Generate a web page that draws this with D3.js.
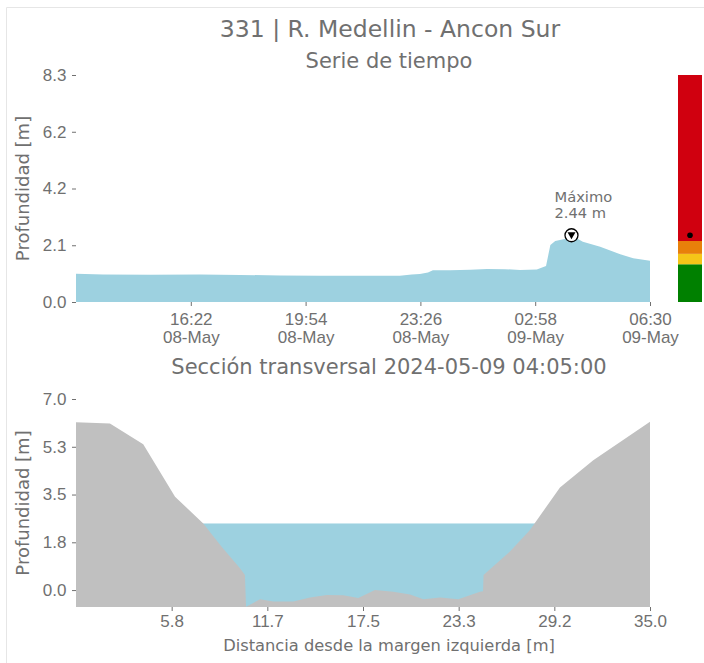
<!DOCTYPE html>
<html>
<head>
<meta charset="utf-8">
<script src="https://cdn.jsdelivr.net/npm/d3@7"></script>
<style>
	body { margin: 0; background: #fff; }
	svg { font-family: "DejaVu Sans", sans-serif; }
	.axis text { fill: #707070; font-size: 17px; }
	.axis line { stroke: #707070; }
	.axis path { display: none; }
</style>
</head>
<body>
<svg id="chart" width="704" height="663"></svg>
<script>
// serie de tiempo (profundidad en m)
var seriesTimes = ["2024-05-08 12:50", "2024-05-08 13:40", "2024-05-08 15:07", "2024-05-08 16:39",
	"2024-05-08 17:53", "2024-05-08 19:07", "2024-05-08 20:21", "2024-05-08 21:34", "2024-05-08 22:48",
	"2024-05-08 23:10", "2024-05-08 23:25", "2024-05-08 23:40", "2024-05-08 23:49", "2024-05-09 00:21",
	"2024-05-09 00:58", "2024-05-09 01:29", "2024-05-09 02:02", "2024-05-09 02:30", "2024-05-09 03:01",
	"2024-05-09 03:18", "2024-05-09 03:26", "2024-05-09 03:35", "2024-05-09 03:59", "2024-05-09 04:05",
	"2024-05-09 04:12", "2024-05-09 04:26", "2024-05-09 04:58", "2024-05-09 05:35", "2024-05-09 05:59",
	"2024-05-09 06:30"];
var seriesDepth = [1.03, 1.01, 1.00, 1.01, 0.99, 0.97, 0.96, 0.96, 0.96, 1.01, 1.02, 1.08, 1.16, 1.16,
	1.18, 1.21, 1.20, 1.17, 1.19, 1.32, 2.08, 2.23, 2.33, 2.44, 2.36, 2.20, 2.02, 1.75, 1.60, 1.51];
var maxTime = "2024-05-09 04:05";
var maxDepth = 2.44;
var timeTicks = ["2024-05-08 16:22", "2024-05-08 19:54", "2024-05-08 23:26", "2024-05-09 02:58", "2024-05-09 06:30"];
var depthTicks = [0, 2.075, 4.15, 6.225, 8.3];

// umbrales de alerta
var levelTops = [1.38, 1.76, 2.23, 8.3];
var levelColors = ["#008000", "#f5c518", "#e8800a", "#d0000f"];

// seccion transversal
var sectionDist = [0, 2.07, 4.10, 6.04, 7.76, 8.88, 10.0, 10.3, 10.37, 11.22, 12.03, 13.25, 14.27, 15.29,
	16.30, 17.21, 18.23, 19.35, 20.37, 21.18, 22.2, 23.31, 24.63, 24.82, 24.85, 26.46, 27.68, 29.51, 31.54, 35.0];
var sectionBed = [6.15, 6.10, 5.34, 3.42, 2.44, 1.59, 0.80, 0.55, -0.61, -0.34, -0.42, -0.42, -0.27, -0.18,
	-0.19, -0.29, 0.0, -0.06, -0.16, -0.34, -0.27, -0.34, -0.06, -0.04, 0.55, 1.41, 2.20, 3.76, 4.76, 6.17];
var waterLevel = 2.44;
var distTicks = [5.833, 11.667, 17.5, 23.333, 29.167, 35.0];
var sectionTicks = [0, 1.75, 3.5, 5.25, 7.0];

var parse = d3.timeParse("%Y-%m-%d %H:%M");
var textColor = "#707070";
var svg = d3.select("#chart");

// marco de la figura
svg.append("path")
	.attr("d", "M6.5,663 V7.5 H704")
	.attr("fill", "none")
	.attr("stroke", "#e6e6e6");

svg.append("text")
	.attr("x", 390).attr("y", 37)
	.attr("text-anchor", "middle")
	.style("font-size", "23.5px").style("fill", textColor)
	.text("331 | R. Medellin - Ancon Sur");

setupSeries();
setupSection();

function setupSeries() {
	var xScale = d3.scaleTime()
		.domain([parse("2024-05-08 12:50"), parse("2024-05-09 06:30")])
		.range([76, 650]);
	var yScale = d3.scaleLinear()
		.domain([0, 8.3])
		.range([302, 75]);

	var data = seriesTimes.map(function(t, i) {
		return { t: parse(t), v: seriesDepth[i] };
	});

	svg.append("path")
		.datum(data)
		.attr("fill", "#9dd1e0")
		.attr("d", d3.area()
			.x(function(d) { return xScale(d.t); })
			.y0(yScale(0))
			.y1(function(d) { return yScale(d.v); }));

	var xAxis = d3.axisBottom(xScale)
		.tickValues(timeTicks.map(parse))
		.tickSize(4)
		.tickPadding(4)
		.tickFormat("");
	var gx = svg.append("g")
		.attr("class", "axis")
		.attr("transform", "translate(0,302)")
		.call(xAxis);
	gx.selectAll(".tick").append("text")
		.attr("y", 23).attr("text-anchor", "middle")
		.text(function(d) { return d3.timeFormat("%H:%M")(d); });
	gx.selectAll(".tick").append("text")
		.attr("y", 41).attr("text-anchor", "middle")
		.text(function(d) { return d3.timeFormat("%d-%b")(d); });

	svg.append("g")
		.attr("class", "axis")
		.attr("transform", "translate(76,0)")
		.call(d3.axisLeft(yScale)
			.tickValues(depthTicks)
			.tickSize(4)
			.tickPadding(5.5)
			.tickFormat(d3.format(".1f")));

	svg.append("text")
		.attr("transform", "translate(29," + ((75 + 302) / 2) + ") rotate(-90)")
		.attr("text-anchor", "middle")
		.style("font-size", "18px").style("fill", textColor)
		.text("Profundidad [m]");

	svg.append("text")
		.attr("x", 389).attr("y", 68)
		.attr("text-anchor", "middle")
		.style("font-size", "21px").style("fill", textColor)
		.text("Serie de tiempo");

	// marcador del maximo
	var mx = xScale(parse(maxTime));
	var my = yScale(maxDepth);
	svg.append("circle")
		.attr("cx", mx).attr("cy", my).attr("r", 6.5)
		.attr("fill", "#fff").attr("stroke", "#000").attr("stroke-width", 1.3);
	svg.append("path")
		.attr("transform", "translate(" + mx + "," + my + ")")
		.attr("d", "M-4,-3 L4,-3 L0,4 Z")
		.attr("fill", "#000");
	svg.append("text")
		.attr("x", mx - 17).attr("y", my - 33)
		.style("font-size", "14.7px").style("fill", textColor)
		.text("Máximo");
	svg.append("text")
		.attr("x", mx - 17).attr("y", my - 17)
		.style("font-size", "14.7px").style("fill", textColor)
		.text(maxDepth.toFixed(2) + " m");

	// barra de niveles
	var bottoms = [0].concat(levelTops.slice(0, -1));
	svg.selectAll(".level")
		.data(levelTops)
		.enter().append("rect")
		.attr("class", "level")
		.attr("x", 678)
		.attr("width", 24)
		.attr("y", function(d) { return yScale(d); })
		.attr("height", function(d, i) { return yScale(bottoms[i]) - yScale(d); })
		.attr("fill", function(d, i) { return levelColors[i]; });
	svg.append("circle")
		.attr("cx", 690).attr("cy", yScale(maxDepth)).attr("r", 2.8)
		.attr("fill", "#000");
}

function setupSection() {
	var xScale = d3.scaleLinear()
		.domain([0, 35])
		.range([76, 650]);
	var yScale = d3.scaleLinear()
		.domain([-0.62, 7.0])
		.range([607, 399]);

	var bed = sectionDist.map(function(d, i) {
		return { x: d, y: sectionBed[i] };
	});

	svg.append("rect")
		.attr("x", xScale(0))
		.attr("y", yScale(waterLevel))
		.attr("width", xScale(35) - xScale(0))
		.attr("height", yScale(-0.62) - yScale(waterLevel))
		.attr("fill", "#9dd1e0");

	svg.append("path")
		.datum(bed)
		.attr("fill", "#c0c0c0")
		.attr("d", d3.area()
			.x(function(d) { return xScale(d.x); })
			.y0(yScale(-0.62))
			.y1(function(d) { return yScale(d.y); }));

	svg.append("g")
		.attr("class", "axis")
		.attr("transform", "translate(0,607)")
		.call(d3.axisBottom(xScale)
			.tickValues(distTicks)
			.tickSize(4)
			.tickPadding(4)
			.tickFormat(d3.format(".1f")));

	svg.append("g")
		.attr("class", "axis")
		.attr("transform", "translate(76,0)")
		.call(d3.axisLeft(yScale)
			.tickValues(sectionTicks)
			.tickSize(4)
			.tickPadding(5.5)
			.tickFormat(d3.format(".1f")));

	svg.append("text")
		.attr("transform", "translate(29," + ((399 + 607) / 2) + ") rotate(-90)")
		.attr("text-anchor", "middle")
		.style("font-size", "18px").style("fill", textColor)
		.text("Profundidad [m]");

	svg.append("text")
		.attr("x", 389).attr("y", 651)
		.attr("text-anchor", "middle")
		.style("font-size", "16.3px").style("fill", textColor)
		.text("Distancia desde la margen izquierda [m]");

	svg.append("text")
		.attr("x", 389).attr("y", 374)
		.attr("text-anchor", "middle")
		.style("font-size", "21px").style("fill", textColor)
		.text("Sección transversal 2024-05-09 04:05:00");
}
</script>
</body>
</html>
